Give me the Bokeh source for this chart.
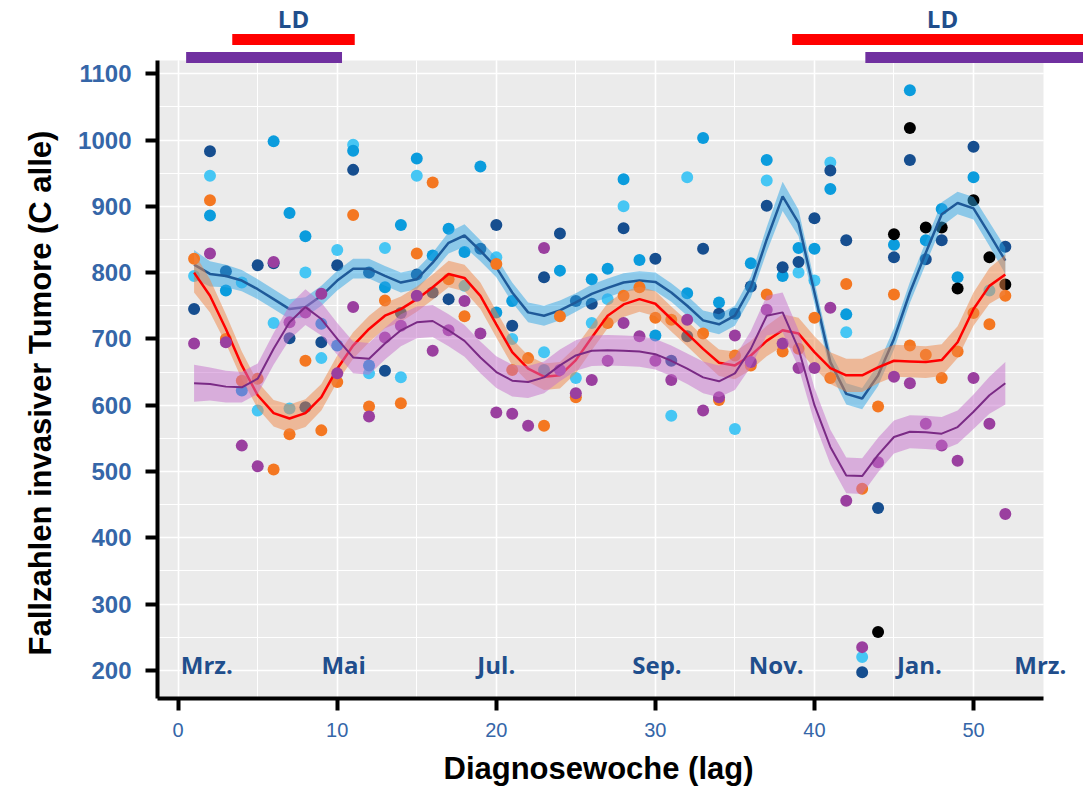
import numpy as np
from bokeh.plotting import figure
from bokeh.models import Range1d, SingleIntervalTicker, Label, BoxAnnotation, Title
from bokeh.core.properties import value
from bokeh.embed import file_html
from bokeh.resources import INLINE

# ---------------- data ----------------
weeks = list(range(1, 53))

pts_darkblue = [745, 983, 802, None, 811, 814, 701, 597, 695, 811,
                955, 800, 652, 739, 797, 770, 760, None, 836, 872,
                720, None, 793, 859, 757, 753, None, 867, None, 821,
                667, 704, 836, 738, 738, 779, 901, 808, 816, 882,
                954, 849, 197, 445, 823, 970, 820, 849, None, 990,
                None, 839]
pts_midblue = [None, 886, 773, 622, None, 998, 890, 855, 723, 690,
               984, 660, 778, 872, 972, 826, 866, 831, 960, 740,
               757, None, 653, 803, None, 790, 806, 941, 819, 705,
               None, 769, 1003, 755, None, 814, 970, 795, 837, 836,
               926, 737, None, None, 842, 1075, 849, 896, 793, 944,
               None, None]
pts_lightblue = [795, 946, None, 785, 592, 724, 595, 800, 671, 834,
                 993, 648, 837, 642, 946, None, None, 780, None, 823,
                 700, None, 680, None, 641, 724, 760, 900, None, None,
                 584, 944, None, None, 564, None, 939, None, 800, 788,
                 966, 710, 220, None, None, None, None, None, None, None,
                 773, None]
pts_black = [None] * 43 + [258, 858, 1018, 868, 868, 776, 909, 823, 782]
pts_orange = [821, 909, 700, 637, 640, 503, 556, 667, 562, 635,
              887, 598, 758, 603, 829, 936, 790, 734, None, 813,
              653, 671, 569, 734, 612, None, 724, 765, 778, 732,
              729, None, 708, 608, 675, 660, 767, 681, 685, 732,
              641, 783, 474, 598, 767, 690, 676, 641, 681, 739,
              722, 765]
pts_purple = [693, 829, 695, 539, 508, 816, 725, 740, 768, 648,
              748, 583, 702, 720, 765, 682, 713, 757, 708, 589,
              587, 569, 837, 653, 618, 638, 667, 724, 704, 667,
              638, 729, 592, 612, 705, 665, 744, 693, 656, 656,
              747, 456, 235, 514, 643, 633, 572, 539, 516, 641,
              572, 436]

fit_blue = [812, 798, 795, 788, 775, 760, 745, 748, 765, 788,
            806, 806, 795, 785, 790, 815, 845, 856, 833, 808,
            770, 740, 735, 743, 755, 768, 777, 785, 788, 786,
            770, 750, 728, 722, 735, 778, 850, 915, 875, 770,
            665, 617, 610, 645, 700, 770, 830, 888, 905, 897,
            858, 818]
band_blue = [22, 19, 17, 16, 15, 15, 15, 15, 15, 15,
             15, 15, 15, 15, 15, 15, 16, 17, 16, 15,
             15, 15, 15, 15, 14, 14, 14, 14, 14, 14,
             14, 15, 15, 15, 15, 16, 19, 22, 20, 17,
             16, 16, 16, 16, 16, 16, 17, 18, 17, 17,
             18, 20]
fit_red = [800, 765, 715, 660, 615, 588, 580, 588, 612, 655,
           690, 715, 735, 745, 760, 778, 798, 792, 765, 722,
           680, 655, 643, 645, 668, 702, 735, 752, 760, 753,
           730, 708, 685, 664, 660, 675, 697, 713, 708, 680,
           656, 645, 645, 657, 667, 666, 665, 668, 695, 745,
           780, 797]
band_red = [30, 25, 22, 21, 20, 20, 21, 21, 20, 20,
            20, 20, 19, 19, 19, 19, 20, 20, 20, 20,
            20, 20, 20, 20, 20, 19, 19, 19, 19, 19,
            19, 19, 19, 20, 21, 22, 23, 24, 24, 24,
            24, 25, 25, 24, 24, 24, 24, 24, 24, 25,
            27, 30]
fit_purple = [633, 632, 628, 627, 640, 685, 725, 748, 730, 700,
              672, 670, 693, 713, 725, 727, 713, 697, 672, 650,
              637, 635, 642, 660, 675, 682, 683, 682, 681, 677,
              667, 655, 642, 636, 648, 685, 735, 740, 685, 600,
              537, 494, 493, 525, 552, 560, 559, 557, 567, 590,
              615, 633]
band_purple = [28, 25, 24, 23, 23, 24, 26, 27, 25, 24,
               24, 24, 24, 24, 24, 24, 24, 24, 24, 24,
               24, 24, 24, 24, 23, 23, 23, 23, 23, 23,
               23, 23, 24, 24, 25, 27, 30, 30, 28, 26,
               26, 27, 27, 26, 25, 25, 25, 25, 25, 26,
               28, 32]

month_labels = ["Mrz.", "Mai", "Jul.", "Sep.", "Nov.", "Jan.", "Mrz."]
month_pos = [1.8, 10.4, 20.0, 30.1, 37.6, 46.6, 54.2]

ld_red_start = [3.4, 38.6]
ld_red_end = [11.1, 57.5]
ld_purple_start = [0.5, 43.2]
ld_purple_end = [10.3, 57.5]

x_title = "Diagnosewoche (lag)"
y_title = "Fallzahlen invasiver Tumore (C alle)"

# ---------------- layout constants ----------------
W, H = 1083, 796
FRAME_L = 157           # frame starts here, runs to the right edge
FRAME_B = 698           # frame bottom (px from top); frame top at 0
X0, XP = -1.3, 54.4     # panel x extent (data)
Y0, YP = 157.5, 1120    # panel y extent (data)
PANEL_R_PX = 1043
pxu = (PANEL_R_PX - FRAME_L) / (XP - X0)
X1 = X0 + (W - FRAME_L) / pxu
pyu = (FRAME_B - 60) / (YP - Y0)
Y1 = Y0 + FRAME_B / pyu

def ypix(py):  # pixel row (from top) -> data y, for layout positions above the panel
    return Y0 + (FRAME_B - py) / pyu

C_DBLUE = "#164E8F"
C_MBLUE = "#0B9CDD"
C_LBLUE = "#46C6F4"
C_ORANGE = "#F47721"
C_PURPLE = "#9A3F9F"
C_TXT = "#1F4E8C"
C_TICK = "#3566A8"

p = figure(width=W, height=H, x_range=Range1d(X0, X1), y_range=Range1d(Y0, Y1),
           output_backend="svg", toolbar_location=None, title=None,
           min_border_left=FRAME_L, min_border_right=0,
           min_border_top=0, min_border_bottom=H - FRAME_B)
p.background_fill_color = "white"
p.border_fill_color = "white"
p.outline_line_color = None

# gray panel
p.add_layout(BoxAnnotation(left=X0, right=XP, bottom=Y0, top=YP, fill_color="#EBEBEB",
                           fill_alpha=1.0, line_color=None, level="image"))

p.xaxis.ticker = SingleIntervalTicker(interval=10, num_minor_ticks=2)
p.yaxis.ticker = SingleIntervalTicker(interval=100, num_minor_ticks=2)
p.xaxis.bounds = (X0, XP)
p.yaxis.bounds = (Y0, YP)
p.xgrid.bounds = (X0, XP)
p.ygrid.bounds = (Y0, YP)
p.xgrid.cross_bounds = (Y0, YP)
p.ygrid.cross_bounds = (X0, XP)
for g in (p.xgrid, p.ygrid):
    g.grid_line_color = "white"
    g.grid_line_width = 1.6
    g.minor_grid_line_color = "white"
    g.minor_grid_line_width = 1.0

for ax in (p.xaxis, p.yaxis):
    ax.axis_line_color = "black"
    ax.axis_line_width = 4
    ax.major_tick_line_color = "black"
    ax.major_tick_line_width = 4
    ax.major_tick_out = 12
    ax.major_tick_in = 0
    ax.minor_tick_line_color = None
    ax.major_label_text_font = "Liberation Sans"
    ax.major_label_text_color = C_TICK
    ax.axis_label = None

p.yaxis.major_label_text_font_size = "24px"
p.yaxis.major_label_text_font_style = "bold"
p.yaxis.major_label_standoff = 14
p.xaxis.major_label_text_font_size = "20px"
p.xaxis.major_label_standoff = 12

# axis titles placed relative to the gray panel (not the whole frame)
p.add_layout(Title(text=x_title, align="left", offset=443 - FRAME_L, standoff=18,
                   text_font="Liberation Sans", text_font_style="bold",
                   text_font_size="31px", text_color="black"), "below")
p.add_layout(Title(text=y_title, align="left", offset=FRAME_B - 655, standoff=35,
                   text_font="Liberation Sans", text_font_style="bold",
                   text_font_size="31px", text_color="black"), "left")

wk = np.array(weeks, dtype=float)
def arr(a):
    return np.array(a, dtype=float)

# blue group points
for vals, col in ((pts_lightblue, C_LBLUE), (pts_midblue, C_MBLUE),
                  (pts_darkblue, C_DBLUE), (pts_black, "black")):
    p.scatter(wk, arr(vals), size=12, marker="circle", fill_color=col, line_color=None)

def smooth(fit, band, fill, line, lw):
    f = arr(fit); b = arr(band)
    p.varea(x=wk, y1=f - b, y2=f + b, fill_color=fill, fill_alpha=0.5)
    p.line(wk, f, line_color=line, line_width=lw)

smooth(fit_blue, band_blue, "#2DA5E5", "#1F5A99", 2.5)
p.scatter(wk, arr(pts_orange), size=12, marker="circle", fill_color=C_ORANGE, line_color=None)
smooth(fit_red, band_red, "#EF8545", "#FF0000", 2.5)
p.scatter(wk, arr(pts_purple), size=12, marker="circle", fill_color=C_PURPLE, line_color=None)
smooth(fit_purple, band_purple, "#C56FCB", "#7A2A85", 2.0)

# month labels inside the panel
for m, xm in zip(month_labels, month_pos):
    p.add_layout(Label(x=xm, y=ypix(663.5), text=m, text_align="center",
                       text_baseline="alphabetic", text_font="Open Sans",
                       text_font_style="bold", text_font_size="24px", text_color=C_TXT))

# lockdown bars above the panel
p.quad(left=ld_red_start, right=ld_red_end, bottom=ypix(44.5), top=ypix(33.5),
       fill_color="#FF0000", line_color=None)
p.quad(left=ld_purple_start, right=ld_purple_end, bottom=ypix(62.5), top=ypix(51.5),
       fill_color="#7030A0", line_color=None)
ld_x = [(s + e) / 2 for s, e in zip(ld_red_start, ld_red_end)]
p.text(x=ld_x, y=[ypix(18)] * 2, text=["LD", "LD"], text_align="center",
       text_baseline="alphabetic", text_font=value("Open Sans"),
       text_font_style="bold", text_font_size="24px", text_color=C_TXT)

open("out.html", "w").write(file_html(p, INLINE))
